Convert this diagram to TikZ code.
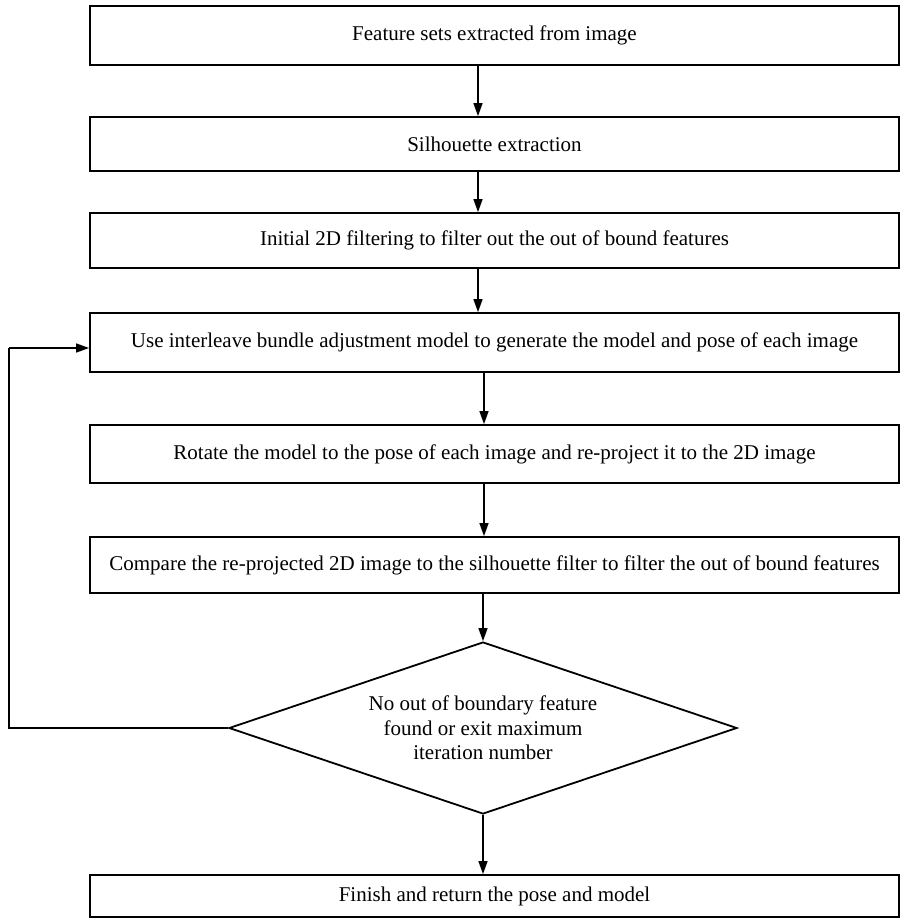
\documentclass[tikz,border=0pt]{standalone}
\usepackage{fontspec}
\setmainfont{Liberation Serif}
\usetikzlibrary{shapes.geometric,arrows.meta}
\begin{document}
\begin{tikzpicture}[x=1pt,y=1pt,
  every node/.style={font=\fontsize{21}{24.5}\selectfont},
  stepbox/.style={draw,line width=1.8pt,minimum width=809pt,inner sep=0pt},
  arr/.style={line width=1.4pt,-{Triangle[length=13pt,width=9pt]}},
  link/.style={line width=1.4pt}]
\useasboundingbox (0,0) rectangle (901,-918);
\node[stepbox,minimum height=59pt] (b1) at (494.5,-35.5) {Feature sets extracted from image};
\node[stepbox,minimum height=54pt] (b2) at (494.5,-144) {Silhouette extraction};
\node[stepbox,minimum height=55pt] (b3) at (494.5,-240.5) {Initial 2D filtering to filter out the out of bound features};
\node[stepbox,minimum height=59pt] (b4) at (494.5,-342.5) {Use interleave bundle adjustment model to generate the model and pose of each image};
\node[stepbox,minimum height=58pt] (b5) at (494.5,-454) {Rotate the model to the pose of each image and re-project it to the 2D image};
\node[stepbox,minimum height=56pt] (b6) at (494.5,-565) {Compare the re-projected 2D image to the silhouette filter to filter the out of bound features};
\node[draw,diamond,line width=1.8pt,minimum width=508pt,minimum height=172pt,inner sep=0pt] (d) at (483,-728) {};
\node[align=center] (dt) at (483,-728) {No out of boundary feature\\found or exit maximum\\iteration number};
\node[stepbox,minimum height=42pt] (b7) at (494.5,-896) {Finish and return the pose and model};
\coordinate (c1) at (9,-728);
\coordinate (c2) at (9,-348);
\draw[arr] (b1.south -| 478,0) -- (b2.north -| 478,0);
\draw[arr] (b2.south -| 478,0) -- (b3.north -| 478,0);
\draw[arr] (b3.south -| 478,0) -- (b4.north -| 478,0);
\draw[arr] (b4.south -| 484,0) -- (b5.north -| 484,0);
\draw[arr] (b5.south -| 484,0) -- (b6.north -| 484,0);
\draw[arr] (b6.south -| 483,0) -- (d.north);
\draw[arr] (d.south) -- (b7.north -| 483,0);
\draw[link] (d.west) -- (c1) -- (c2);
\draw[arr] (c2) -- (c2 -| b4.west);
\end{tikzpicture}
\end{document}
